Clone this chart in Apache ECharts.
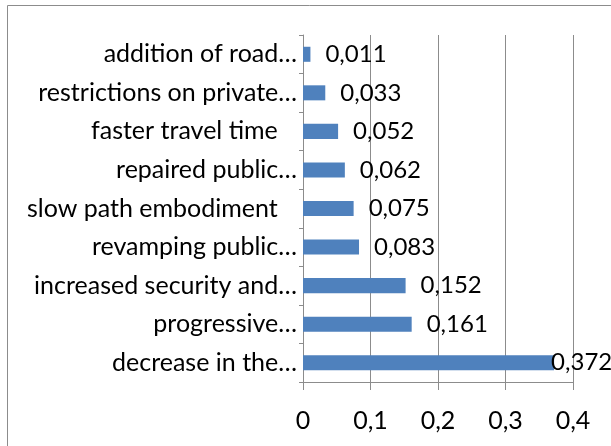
<!DOCTYPE html>
<html><head><meta charset="utf-8">
<script src="https://cdn.jsdelivr.net/npm/echarts@6/dist/echarts.min.js"></script>
<style>html,body{margin:0;padding:0;background:#fff}#c{width:611px;height:446px}</style>
</head><body><div id="c"></div>
<script>
const categories = ["decrease in the…","progressive…","increased security and…","revamping public…","slow path embodiment ","repaired public…","faster travel time ","restrictions on private…","addition of road…"];
const values = [0.372,0.161,0.152,0.083,0.075,0.062,0.052,0.033,0.011];
const xTicks = [0,0.1,0.2,0.3,0.4];

const fmt = v => String(v).replace('.', ',');
const maxV = Math.max(...values);
const chart = echarts.init(document.getElementById('c'));
chart.setOption({
  animation:false,
  textStyle:{fontFamily:'Lato'},
  graphic:[{type:'rect',shape:{x:7.5,y:5.5,width:700,height:500},style:{fill:'none',stroke:'#8c8c8c',lineWidth:1}}],
  grid:{left:303,right:38,top:35,bottom:64},
  xAxis:{type:'value',min:xTicks[0],max:xTicks[xTicks.length-1],interval:0.1,
    axisLine:{show:true,lineStyle:{color:'#8c8c8c'}},
    axisTick:{show:true,length:8,lineStyle:{color:'#8c8c8c'}},
    splitLine:{show:true,lineStyle:{color:'#8c8c8c'}},
    axisLabel:{color:'#000',fontSize:25,margin:26,formatter:v=>fmt(Math.round(v*10)/10)}},
  yAxis:{type:'category',data:categories,
    axisLine:{show:true,lineStyle:{color:'#8c8c8c'}},
    axisTick:{show:true,length:4,lineStyle:{color:'#8c8c8c'}},
    axisLabel:{color:'#000',fontSize:25,margin:6,formatter:v=>v.endsWith(' ')?v+'\u00a0\u00a0':v}},
  series:[{type:'bar',barCategoryGap:'61%',
    itemStyle:{color:'#4f81bd'},
    label:{show:true,position:'right',distance:15,color:'#000',fontSize:24,fontFamily:'Lato',formatter:p=>fmt(p.value)},
    data:values.map(v=>v===maxV?{value:v,label:{distance:-3}}:v)}]
});
</script></body></html>
